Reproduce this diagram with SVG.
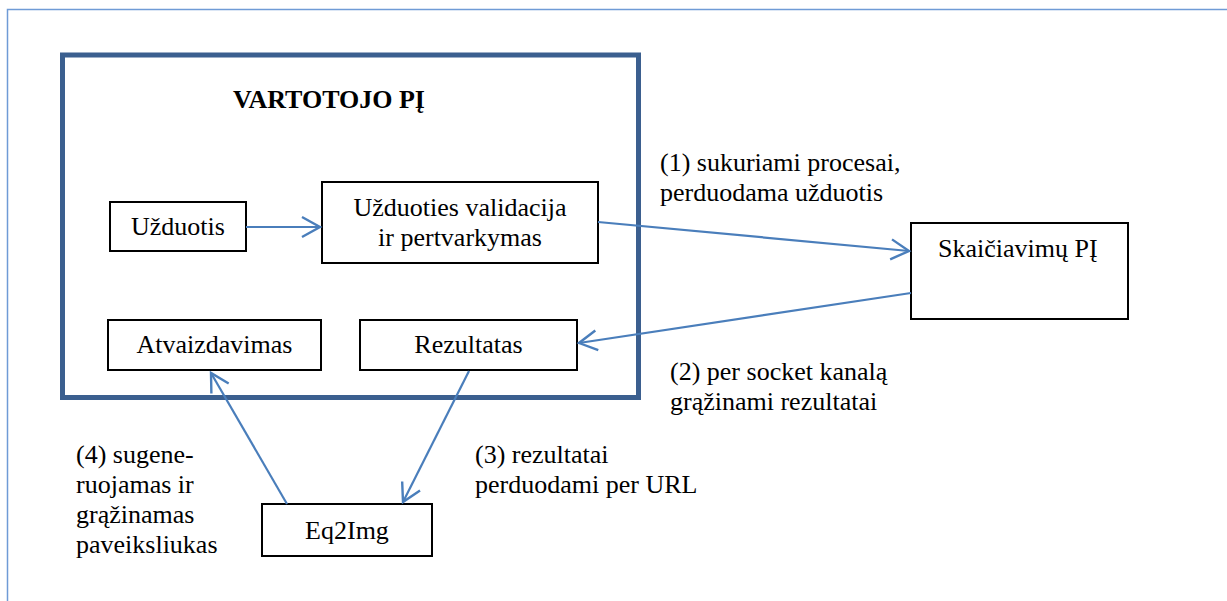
<svg xmlns="http://www.w3.org/2000/svg" width="1227" height="601" viewBox="0 0 1227 601">
  <style>
    text { font-family: "Liberation Serif", "Times New Roman", Tinos, "DejaVu Serif", serif; font-size: 26px; fill: #000; }
    .title { font-weight: bold; }
    .box { fill: #fff; stroke: #000; stroke-width: 2; }
    .conn { fill: none; stroke: #4a7ebb; stroke-width: 2.2; marker-end: url(#arrow); }
  </style>
  <defs>
    <marker id="arrow" markerUnits="userSpaceOnUse" markerWidth="30" markerHeight="30" viewBox="-22 -15 26 30" refX="0" refY="0" orient="auto">
      <path d="M-18,-10 L0,0 L-18,10" fill="none" stroke="#4a7ebb" stroke-width="2.4"/>
    </marker>
  </defs>

  <rect width="1227" height="601" fill="#fff"/>
  <!-- page frame -->
  <rect x="7.5" y="9.5" width="1240" height="620" fill="none" stroke="#6f9bd6" stroke-width="1.5"/>

  <!-- client software container -->
  <g id="client">
    <rect x="62.5" y="55" width="576" height="342.5" fill="none" stroke="#3b5f8f" stroke-width="5"/>
    <text class="title" x="233" y="108" font-family="Liberation Serif, serif">VARTOTOJO PĮ</text>
  </g>

  <g id="task">
    <rect class="box" x="110" y="202" width="136" height="49"/>
    <text x="178" y="235" text-anchor="middle">Užduotis</text>
  </g>

  <g id="validation">
    <rect class="box" x="322" y="182" width="276" height="81"/>
    <text x="460" y="216" text-anchor="middle">Užduoties validacija</text>
    <text x="460" y="246" text-anchor="middle">ir pertvarkymas</text>
  </g>

  <g id="display">
    <rect class="box" x="108" y="320" width="213" height="50"/>
    <text x="214.5" y="353" text-anchor="middle">Atvaizdavimas</text>
  </g>

  <g id="result">
    <rect class="box" x="360" y="320" width="217" height="50"/>
    <text x="468.5" y="353" text-anchor="middle">Rezultatas</text>
  </g>

  <g id="compute">
    <rect class="box" x="911" y="223" width="217" height="96"/>
    <text x="938" y="257">Skaičiavimų PĮ</text>
  </g>

  <g id="eq2img">
    <rect class="box" x="262" y="504" width="170" height="52"/>
    <text x="347" y="539" text-anchor="middle">Eq2Img</text>
  </g>

  <g id="connectors">
    <line class="conn" x1="246" y1="227" x2="320" y2="227"/>
    <line class="conn" x1="598" y1="222" x2="909" y2="251"/>
    <line class="conn" x1="911" y1="293" x2="579" y2="343"/>
    <line class="conn" x1="469" y1="371" x2="403" y2="502"/>
    <line class="conn" x1="287" y1="504" x2="211" y2="373"/>
  </g>

  <g id="labels">
    <text x="660" y="171">(1) sukuriami procesai,</text>
    <text x="660" y="201">perduodama užduotis</text>
    <text x="670" y="380">(2) per socket kanalą</text>
    <text x="670" y="410">grąžinami rezultatai</text>
    <text x="475" y="463">(3) rezultatai</text>
    <text x="475" y="493">perduodami per URL</text>
    <text x="76" y="463">(4) sugene-</text>
    <text x="76" y="493">ruojamas ir</text>
    <text x="76" y="523">grąžinamas</text>
    <text x="76" y="553">paveiksliukas</text>
  </g>
</svg>
